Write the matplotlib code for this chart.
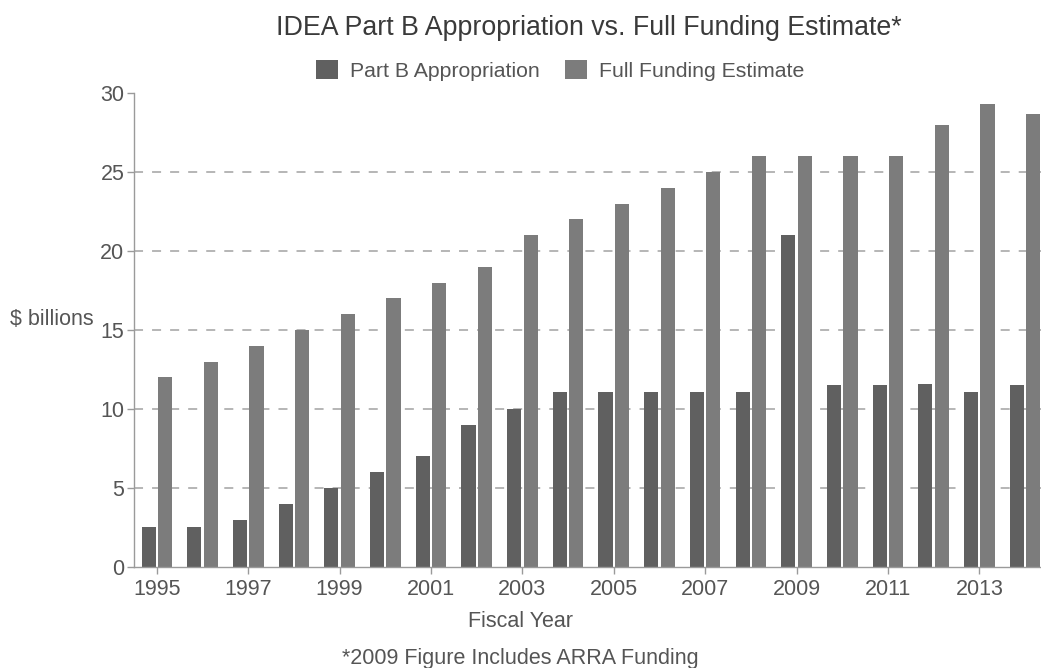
import numpy as np
import matplotlib.pyplot as plt

years = list(range(1995, 2015))
part_b = [2.5, 2.5, 3.0, 4.0, 5.0, 6.0, 7.0, 9.0, 10.0, 11.1,
          11.1, 11.1, 11.1, 11.1, 21.0, 11.5, 11.5, 11.6, 11.1, 11.5]
full_funding = [12, 13, 14, 15, 16, 17, 18, 19, 21, 22,
                23, 24, 25, 26, 26, 26, 26, 28, 29.3, 28.7]
tick_years = [y for y in years if y % 2 == 1]


def main():
    plt.rcParams['font.family'] = ['Liberation Sans', 'DejaVu Sans']
    fig = plt.figure(figsize=(10.41, 6.68), dpi=100)
    ax = fig.add_axes([0.1287, 0.1512, 0.8713, 0.7096])

    x = np.arange(len(years))
    w = 0.31
    ax.bar(x - 0.18, part_b, w, color='#606060', label='Part B Appropriation', zorder=2)
    ax.bar(x + 0.18, full_funding, w, color='#7c7c7c', label='Full Funding Estimate', zorder=2)

    ax.set_xlim(-0.5, 19.35)
    ax.set_ylim(0, 30)
    ax.set_yticks([0, 5, 10, 15, 20, 25, 30])
    ax.set_xticks([years.index(y) for y in tick_years])
    ax.set_xticklabels([str(y) for y in tick_years])
    for gy in [5, 10, 15, 20, 25]:
        ax.axhline(gy, color='#b0b0b0', lw=1.3, ls=(0, (5, 5)), zorder=1)

    for s in ['top', 'right']:
        ax.spines[s].set_visible(False)
    for s in ['left', 'bottom']:
        ax.spines[s].set_color('#9a9a9a')
        ax.spines[s].set_linewidth(1.0)
    ax.tick_params(colors='#9a9a9a', labelcolor='#555555', labelsize=15.5, length=5, width=1)
    ax.tick_params(axis='y', pad=2)

    ax.set_xlabel('Fiscal Year', fontsize=15.5, color='#555555')
    ax.xaxis.set_label_coords(0.4256, -0.092, transform=ax.transAxes)
    ax.set_ylabel('$ billions', fontsize=15.5, color='#555555', rotation=0, labelpad=0)
    ax.yaxis.set_label_coords(-0.044, 0.5, transform=ax.transAxes)
    ax.yaxis.label.set_horizontalalignment('right')

    fig.suptitle('IDEA Part B Appropriation vs. Full Funding Estimate*',
                 x=0.566, y=0.978, fontsize=19.3, color='#3a3a3a')
    fig.legend(loc='center', bbox_to_anchor=(0.538, 0.895), ncol=2, frameon=False,
               fontsize=15.3, labelcolor='#555555', handlelength=1.05, handleheight=1.05,
               columnspacing=1.2, handletextpad=0.55)
    fig.text(0.5, 0.006, '*2009 Figure Includes ARRA Funding', ha='center',
             fontsize=15.5, color='#555555')

    fig.savefig('out.png', dpi=100)


if __name__ == '__main__':
    main()
